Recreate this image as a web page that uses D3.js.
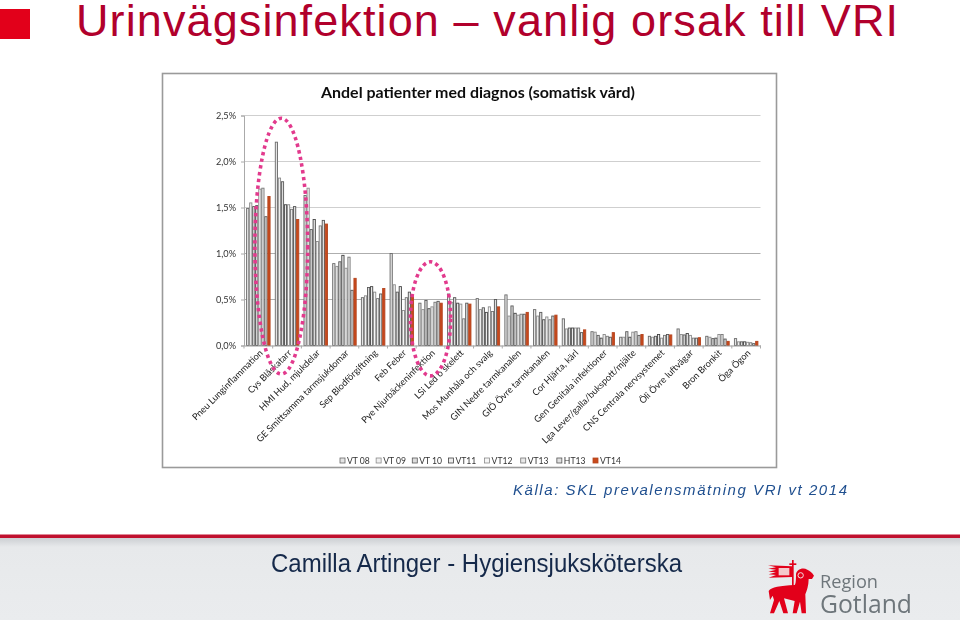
<!DOCTYPE html>
<html><head><meta charset="utf-8">
<script src="https://cdn.jsdelivr.net/npm/d3@7/dist/d3.min.js"></script>
<style>html,body{margin:0;padding:0;background:#fff}svg{display:block}</style>
</head><body><svg id="c" width="960" height="620"></svg>
<script>
const categories=["Pneu Lunginflammation","Cys Blåskatarr","HMI Hud, mjukdelar","GE Smittsamma tarmsjukdomar","Sep Blodförgiftning","Feb Feber","Pye Njurbäckeninfektion","LSi Led o skelett","Mos Munhåla och svalg","GIN Nedre tarmkanalen","GIÖ Övre tarmkanalen","Cor Hjärta, kärl","Gen Genitala infektioner","Lga Lever/galla/bukspott/mjälte","CNS Centrala nervsystemet","Öli Övre luftvägar","Bron Bronkit","Öga Ögon"];
const seriesNames=["VT 08","VT 09","VT 10","VT11","VT12","VT13","HT13","VT14"];
const vt08=[1.49,2.21,1.63,0.89,0.52,1.00,0.46,0.56,0.51,0.55,0.39,0.29,0.15,0.09,0.10,0.18,0.10,0.075];
const vt09=[1.55,1.82,1.71,0.86,0.54,0.66,0.39,0.47,0.39,0.32,0.32,0.18,0.145,0.09,0.09,0.12,0.09,0.04];
const vt10=[1.51,1.78,1.26,0.91,0.63,0.58,0.49,0.52,0.41,0.43,0.36,0.19,0.11,0.15,0.10,0.115,0.075,0.04];
const vt11=[1.52,1.53,1.37,0.98,0.64,0.64,0.40,0.46,0.36,0.35,0.28,0.19,0.08,0.09,0.12,0.13,0.08,0.04];
const vt12=[1.70,1.53,1.13,0.84,0.58,0.38,0.42,0.45,0.42,0.33,0.31,0.19,0.12,0.145,0.08,0.11,0.12,0.035];
const vt13=[1.71,1.48,1.30,0.96,0.51,0.52,0.47,0.29,0.37,0.34,0.28,0.19,0.10,0.15,0.11,0.08,0.12,0.03];
const ht13=[1.40,1.51,1.36,0.60,0.56,0.58,0.48,0.46,0.50,0.34,0.32,0.14,0.09,0.11,0.12,0.08,0.07,0.02];
const vt14=[1.62,1.37,1.32,0.73,0.62,0.53,0.46,0.45,0.42,0.36,0.33,0.17,0.14,0.12,0.115,0.085,0.045,0.045];
const seriesValues=[vt08,vt09,vt10,vt11,vt12,vt13,ht13,vt14];
const yTicks=[0,0.5,1,1.5,2,2.5];
const chartTitle="Andel patienter med diagnos (somatisk vård)";
const slideTitle="Urinvägsinfektion – vanlig orsak till VRI";
const sourceText="Källa: SKL prevalensmätning VRI vt 2014";
const footerText="Camilla Artinger - Hygiensjuksköterska";

const strokes=["#6a6a6a","#8c8c8c","#5a5a5a","#444","#8a8a8a","#777","#555","#b5451f"];
const fills=["#e4e4e4","#efefef","#dcdcdc","#ececec","#f6f6f6","#e8e8e8","#e0e0e0","#c8481c"];

const svg=d3.select("#c");
const defs=svg.append("defs");
defs.append("filter").attr("id","soft").append("feGaussianBlur").attr("stdDeviation",0.3);
const fg=defs.append("linearGradient").attr("id","foot").attr("x1",0).attr("x2",0).attr("y1",0).attr("y2",1);
fg.append("stop").attr("offset",0).attr("stop-color","#c9ccd0");
fg.append("stop").attr("offset",0.12).attr("stop-color","#e7e9eb");
fg.append("stop").attr("offset",1).attr("stop-color","#eaecee");

svg.append("rect").attr("x",0).attr("y",9).attr("width",30).attr("height",30).attr("fill","#e2001a");
svg.append("text").attr("x",76).attr("y",36).attr("font-family","Liberation Sans").attr("font-size",45)
  .attr("fill","#b1002c").attr("textLength",822).attr("lengthAdjust","spacing").text(slideTitle);

svg.append("rect").attr("x",162.5).attr("y",73.5).attr("width",614).attr("height",394)
  .attr("fill","#fff").attr("stroke","#9a9a9a").attr("stroke-width",1.6);

const chart=svg.append("g").attr("filter","url(#soft)");
const x=d3.scaleBand().domain(categories).range([244,760.5]);
const y=d3.scaleLinear().domain([0,2.5]).range([345.5,115.5]);
const inner=d3.scaleBand().domain(d3.range(8)).range([2.2,x.bandwidth()-2.2]);

chart.append("g").selectAll("line").data(yTicks.slice(1)).join("line")
  .attr("x1",x.range()[0]).attr("x2",x.range()[1]).attr("y1",d=>y(d)).attr("y2",d=>y(d))
  .attr("stroke",d=>d>1?"#cfcfcf":"#aeaeae").attr("stroke-width",1);

chart.append("g").selectAll("g").data(seriesValues).join("g")
  .each(function(vals,s){
    d3.select(this).selectAll("rect").data(vals).join("rect")
      .attr("x",(d,i)=>x(categories[i])+inner(s)+0.4)
      .attr("width",inner.bandwidth()-0.8)
      .attr("y",d=>y(d))
      .attr("height",d=>y(0)-y(d))
      .attr("fill",fills[s]).attr("stroke",strokes[s]).attr("stroke-width",0.9);
  });

const yAxis=d3.axisLeft(y).tickValues(yTicks).tickSize(3).tickFormat(d=>d3.format(".1f")(d).replace(".",",")+"%");
const gy=chart.append("g").attr("transform",`translate(${x.range()[0]},0)`).call(yAxis);
gy.selectAll("text").attr("font-family","Lato").attr("font-size",9.2).attr("fill","#333").attr("x",-8);
gy.selectAll("line,path").attr("stroke","#aaa");
const gx=chart.append("g").attr("transform",`translate(0,${y(0)})`).call(d3.axisBottom(x).tickSize(0).tickFormat(""));
gx.selectAll("path").attr("stroke","#999");
gx.selectAll("text").remove();
chart.append("g").selectAll("line").data(d3.range(categories.length+1)).join("line")
  .attr("x1",i=>x.range()[0]+i*x.step()).attr("x2",i=>x.range()[0]+i*x.step())
  .attr("y1",y(0)).attr("y2",y(0)+3).attr("stroke","#aaa");

chart.append("g").selectAll("text").data(categories).join("text")
  .attr("transform",d=>`translate(${x(d)+x.bandwidth()/2+5},${y(0)+8}) rotate(-45)`)
  .attr("text-anchor","end").attr("font-family","Lato").attr("font-size",9.2).attr("fill","#222").text(d=>d);

chart.append("text").attr("x",478).attr("y",98).attr("text-anchor","middle").attr("font-family","Lato")
  .attr("font-weight",700).attr("font-size",15.5).attr("fill","#111").attr("textLength",314).attr("lengthAdjust","spacingAndGlyphs").text(chartTitle);

const legendX=d3.scalePoint().domain(seriesNames).range([340,593]);
const lg=chart.append("g").selectAll("g").data(seriesNames).join("g")
  .attr("transform",d=>`translate(${legendX(d)},461)`);
lg.append("rect").attr("y",-3).attr("width",5).attr("height",5)
  .attr("fill",(d,i)=>fills[i]).attr("stroke",(d,i)=>strokes[i]).attr("stroke-width",0.8);
lg.append("text").attr("x",7).attr("y",3).attr("font-family","Lato").attr("font-size",8.6).attr("fill","#333").text(d=>d);

const ell=svg.append("g").attr("fill","none").attr("stroke","#e23a8d").attr("stroke-width",3.6)
  .attr("stroke-dasharray","3.4 3.4");
ell.append("ellipse").attr("cx",x(categories[1])+x.bandwidth()*0.3).attr("cy",y(1.08))
  .attr("rx",x.bandwidth()*0.92).attr("ry",y(0)-y(1.39));
ell.append("ellipse").attr("cx",x(categories[6])+x.bandwidth()*0.5).attr("cy",y(0.29))
  .attr("rx",x.bandwidth()*0.7).attr("ry",y(0)-y(0.62));

svg.append("text").attr("x",513).attr("y",495).attr("font-family","Liberation Sans").attr("font-style","italic")
  .attr("font-size",15).attr("fill","#1f4f8f").attr("textLength",334).attr("lengthAdjust","spacing").text(sourceText);

svg.append("rect").attr("x",0).attr("y",537).attr("width",960).attr("height",83).attr("fill","url(#foot)");
svg.append("rect").attr("x",0).attr("y",534.5).attr("width",960).attr("height",3.5).attr("fill","#c0102e");
svg.append("text").attr("x",271).attr("y",572).attr("font-family","Liberation Sans").attr("font-size",25)
  .attr("fill","#15294a").attr("textLength",411).attr("lengthAdjust","spacingAndGlyphs").text(footerText);

const logo=svg.append("g").attr("transform","translate(760,555) scale(0.3333)");
const red="#e2001a";
logo.append("path").attr("fill",red).attr("d","M26 108 C34 96 60 92 104 90 C108 88 108 70 108 60 C108 44 128 36 142 44 C150 48 156 52 162 62 L156 72 L146 72 C146 92 140 108 136 118 L138 175 L125 175 L120 140 L110 175 L98 175 L104 138 L72 130 L84 175 L70 175 L58 138 L42 175 L30 175 L42 135 L38 122 L30 135 Z");
logo.append("rect").attr("x",96).attr("y",15).attr("width",5).attr("height",78).attr("fill",red);
logo.append("rect").attr("x",88).attr("y",25).attr("width",21).attr("height",5).attr("fill",red);
logo.append("path").attr("fill",red).attr("d","M24 31 L96 34 L96 66 L26 68 L48 60 L26 58 L48 52 L25 50 L48 44 L25 41 L48 37 Z");
logo.append("rect").attr("x",56).attr("y",39).attr("width",32).attr("height",22).attr("fill","#f4c9cc");
logo.append("circle").attr("cx",122).attr("cy",61).attr("r",8).attr("fill","none").attr("stroke","#f3dfe0").attr("stroke-width",3);
svg.append("text").attr("x",820).attr("y",588).attr("font-family","Open Sans").attr("font-size",19).attr("fill","#6e767b")
  .attr("textLength",58).attr("lengthAdjust","spacingAndGlyphs").text("Region");
svg.append("text").attr("x",820).attr("y",612.5).attr("font-family","Open Sans").attr("font-size",25.5).attr("fill","#6e767b")
  .attr("textLength",92).attr("lengthAdjust","spacingAndGlyphs").text("Gotland");
</script></body></html>
